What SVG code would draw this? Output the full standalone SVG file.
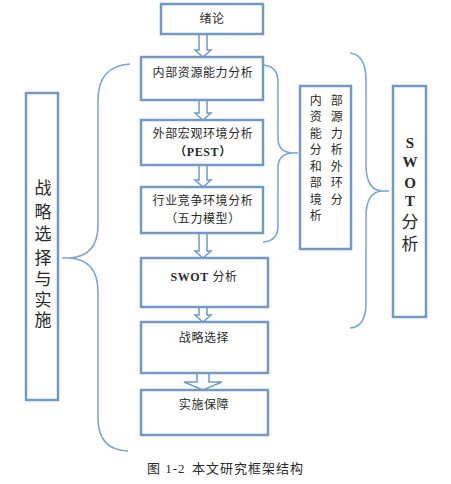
<svg xmlns="http://www.w3.org/2000/svg" width="451" height="484" viewBox="0 0 451 484">
<style>
.box{fill:#fff;stroke:#7399c6;stroke-width:2.5}
.arr{fill:#fff;stroke:#7399c6;stroke-width:1.5;stroke-linejoin:miter}
.br{fill:none;stroke:#7ea6d2;stroke-width:1.6}
.t{font-family:"Liberation Serif","Noto Sans CJK SC",serif;font-size:12px;fill:#2a2a2a;text-anchor:middle;letter-spacing:0.6px}
.b{font-weight:bold}
.v{font-family:"Liberation Serif","Noto Sans CJK SC",serif;font-size:17px;fill:#2a2a2a;text-anchor:middle}
.c{font-family:"Liberation Serif","Noto Sans CJK SC",serif;font-size:13px;fill:#2a2a2a;letter-spacing:1px}
</style>
<rect width="451" height="484" fill="#fff"/>
<g id="connectors">
<polygon class="arr" points="199,34 207,34 207,50 211,50 203,57 195,50 199,50"/>
<polygon class="arr" points="199,100 207,100 207,113 211,113 203,120 195,113 199,113"/>
<polygon class="arr" points="199,165 207,165 207,180 211,180 203,187 195,180 199,180"/>
<polygon class="arr" points="199,233 207,233 207,251 211,251 203,258 195,251 199,251"/>
<polygon class="arr" points="199,307 207,307 207,315 211,315 203,322 195,315 199,315"/>
<polygon class="arr" points="203,362 220,370 209,370 209,382 222,382 203,390 184,382 197,382 197,370 186,370"/>
<path class="br" d="M263,65 Q278,66 278,82 L278,138 Q278,152 292,153 L298,153 M292,153 Q278,154 278,168 L278,226 Q278,241 263,242"/>
<path class="br" d="M350,53 Q366,55 366,80 L366,165 Q366,190 382,191 L389,191 M382,191 Q366,192 366,217 L366,303 Q366,327 350,328"/>
<path class="br" d="M130,64 Q98,66 98,100 L98,225 Q98,256 70,258 L62,258 M70,258 Q98,260 98,292 L98,418 Q98,450 128,451"/>
</g>
<g id="n1"><rect class="box" x="161" y="4" width="102" height="30"/><text class="t" x="212" y="23">绪论</text></g>
<g id="n2"><rect class="box" x="141" y="57" width="122" height="43"/><text class="t" x="203" y="77">内部资源能力分析</text></g>
<g id="n3"><rect class="box" x="141" y="120" width="122" height="45"/><text class="t" x="203" y="138">外部宏观环境分析</text><text class="t b" x="203" y="156">（PEST）</text></g>
<g id="n4"><rect class="box" x="141" y="187" width="122" height="46"/><text class="t" x="203" y="205">行业竞争环境分析</text><text class="t" x="203" y="223">（五力模型）</text></g>
<g id="n5"><rect class="box" x="141" y="258" width="127" height="49"/><text class="t" x="204" y="281"><tspan class="b">SWOT</tspan> 分析</text></g>
<g id="n6"><rect class="box" x="141" y="322" width="127" height="51"/><text class="t" x="204" y="342">战略选择</text></g>
<g id="n7"><rect class="box" x="141" y="390" width="127" height="45"/><text class="t" x="204" y="409">实施保障</text></g>
<g id="n8"><rect class="box" x="300" y="86" width="51" height="163"/>
<text class="t" x="316" y="105">内</text><text class="t" x="337" y="105">部</text>
<text class="t" x="316" y="121">资</text><text class="t" x="337" y="121">源</text>
<text class="t" x="316" y="138">能</text><text class="t" x="337" y="138">力</text>
<text class="t" x="316" y="154">分</text><text class="t" x="337" y="154">析</text>
<text class="t" x="316" y="171">和</text><text class="t" x="337" y="171">外</text>
<text class="t" x="316" y="187">部</text><text class="t" x="337" y="187">环</text>
<text class="t" x="316" y="204">境</text><text class="t" x="337" y="204">分</text>
<text class="t" x="316" y="220">析</text>
</g>
<g id="n9"><rect class="box" x="393" y="86" width="33" height="231"/>
<text class="v b" x="410" y="148" style="font-size:15px">S</text>
<text class="v b" x="410" y="167" style="font-size:15px">W</text>
<text class="v b" x="410" y="188" style="font-size:15px">O</text>
<text class="v b" x="410" y="206" style="font-size:15px">T</text>
<text class="v" x="410" y="228">分</text>
<text class="v" x="410" y="250">析</text>
</g>
<g id="n10"><rect class="box" x="26" y="93" width="32" height="307"/>
<text class="v" x="43" y="194">战</text>
<text class="v" x="43" y="218">略</text>
<text class="v" x="43" y="240">选</text>
<text class="v" x="43" y="264">择</text>
<text class="v" x="43" y="285">与</text>
<text class="v" x="43" y="306">实</text>
<text class="v" x="43" y="326">施</text>
</g>
<text class="c" y="473"><tspan x="147">图 1-2</tspan><tspan x="192">本文研究框架结构</tspan></text>
</svg>
